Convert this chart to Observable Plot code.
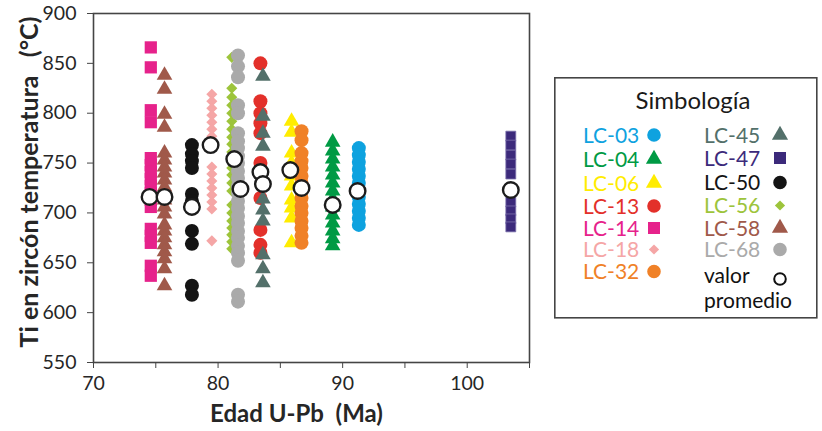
<!DOCTYPE html>
<html><head><meta charset="utf-8">
<script src="https://cdn.jsdelivr.net/npm/d3@7"></script>
<script src="https://cdn.jsdelivr.net/npm/@observablehq/plot@0.6"></script>
<style>
body{margin:0;background:#fff;font-family:Lato,"Open Sans",sans-serif}
#wrap{position:relative;width:822px;height:431px;overflow:hidden}
#legend{position:absolute;left:554px;top:77px}
</style></head><body><div id="wrap"></div>
<script>
// Samples, their U-Pb ages (Ma) and Ti-in-zircon temperatures (°C)
const samples = ["LC-03","LC-04","LC-06","LC-13","LC-14","LC-18","LC-32","LC-45","LC-47","LC-50","LC-56","LC-58","LC-68"];
const ages    = [91.3, 89.2, 85.9, 83.4, 74.6, 79.5, 86.7, 83.6, 103.5, 77.9, 81.1, 75.7, 81.6];
const t03 = [765,758,751,744,737,730,723,716,709,702,695,688];
const t04 = [771,762,754,746,738,730,722,714,706,698,690,682,674,667];
const t06 = [792,781,760,750,737,727,713,705,695,670];
const t13 = [850,812,800,790,780,750,740,715,683,668,660];
const t14 = [866,846,803,791,755,748,741,734,727,720,713,706,684,677,670,647,637];
const t18 = [819,812,805,798,791,784,777,770,746,739,732,725,718,711,704,672];
const t32 = [782,773,760,752,745,737,730,722,715,707,700,692,685,677,670];
const t45 = [837,797,780,767,714,703,692,658,644,630];
const t47 = [777,768,758,749,739,711,702,694,686];
const t50 = [768,759,752,745,719,712,682,669,627,618];
const t56 = [856,825,816,808,800,792,784,776,769,761,753,745,738,730,722,708,700,692,685,678,671,664];
const t58 = [838,824,799,786,760,753,746,740,733,726,720,713,706,699,688,682,675,668,661,654,644,627];
const t68 = [858,847,836,808,800,780,772,765,757,750,742,735,727,720,712,705,697,690,682,675,667,660,652,618,611];
const temps = [t03,t04,t06,t13,t14,t18,t32,t45,t47,t50,t56,t58,t68];
// Average value ("valor promedio") per sample
const avgAges  = [74.5, 75.7, 77.9, 79.4, 81.3, 81.8, 83.4, 83.6, 85.8, 86.7, 89.2, 91.2, 103.5];
const avgTemps = [716, 716, 706, 768, 754, 724, 741, 729, 743, 725, 708, 722, 723];
const xTicks = [70,75,80,85,90,95,100,105];
const yTicks = [550,600,650,700,750,800,850,900];

// styles
const colors  = ["#0ea2df","#009a44","#ffec00","#e3302a","#e6228b","#f5a6a6","#f08127","#53706a","#3c2a7b","#141414","#9dc43b","#a0594a","#aaaaaa"];
const symbols = ["circle","triangle","triangle","circle","square","diamond2","circle","triangle","square","circle","diamond2","triangle","circle"];
const radii   = [7,5.8,5.8,7,6.9,5,7,5.8,5.6,7,5,5.8,7];

const marks = [Plot.frame({stroke:"#454545", strokeWidth:1.6})];
temps.forEach((arr,i)=>{
  marks.push(Plot.dot(arr,{x:()=>ages[i], y:d=>d, symbol:symbols[i], r:radii[i], fill:colors[i],
    stroke: i===8 ? "#7d74ad" : null, strokeWidth: i===8 ? 0.8 : null}));
});
marks.push(Plot.dot(avgTemps,{x:(d,i)=>avgAges[i], y:d=>d, r:7.8, fill:"white", stroke:"#1c1c1c", strokeWidth:2.4}));
marks.push(Plot.axisY({ticks:yTicks, tickSize:6, tickPadding:11, label:null, fontSize:19.5, fill:"#262626", stroke:"#454545"}));
marks.push(Plot.axisX({ticks:xTicks, tickSize:6, tickPadding:8, label:null, fontSize:19.5, fill:"#262626", stroke:"#454545",
  tickFormat:d=> (d%10===0 && d<=100) ? String(d) : ""}));
marks.push(Plot.text(["Ti en zircón temperatura\u00a0\u00a0\u00a0(°C)"],{frameAnchor:"left", dx:-64, dy:-6, rotate:-90, fontWeight:"bold", fontSize:25, fill:"#262626", textAnchor:"middle", lineAnchor:"middle"}));
marks.push(Plot.text(["Edad U-Pb\u00a0\u00a0(Ma)"],{frameAnchor:"bottom", dx:-15, dy:52, fontWeight:"bold", fontSize:24, fill:"#262626", textAnchor:"middle", lineAnchor:"middle"}));

const chart = Plot.plot({
  width:822, height:431,
  marginLeft:93, marginRight:293, marginTop:13, marginBottom:69,
  x:{domain:[70,105]}, y:{domain:[550,900]},
  style:{fontFamily:"Lato, 'Open Sans', sans-serif", background:"white", overflow:"visible"},
  marks
});
document.getElementById("wrap").appendChild(chart);

// Legend ("Simbología")
const L = d3.select("#wrap").append("svg").attr("id","legend").attr("width",264).attr("height",242)
  .style("font-family","Lato, 'Open Sans', sans-serif");
L.append("rect").attr("x",0.8).attr("y",0.8).attr("width",262).attr("height",240).attr("fill","white").attr("stroke","#454545").attr("stroke-width",1.6);
L.append("text").attr("x",139).attr("y",32).attr("text-anchor","middle").attr("font-size",24).attr("fill","#1a1a1a").text("Simbología");
const rowY1 = [58, 82, 106, 129, 151, 172.5, 194.5];
const rowY2 = [58, 81, 105.5, 128.5, 151, 172.5];
const symMap = {circle:d3.symbolCircle, triangle:d3.symbolTriangle, square:d3.symbolSquare, diamond2:d3.symbolDiamond2};
samples.forEach((s,i)=>{
  const col = i<7 ? 0 : 1;
  const y = col===0 ? rowY1[i] : rowY2[i-7];
  const tx = col===0 ? 29 : 150;
  const sx = col===0 ? 100 : 226;
  L.append("text").attr("x",tx).attr("y",y).attr("dy","0.36em").attr("font-size",21).attr("fill",colors[i]).text(s);
  const r = symbols[i]==="diamond2" ? 4.6 : symbols[i]==="triangle" ? 6 : 6.8;
  L.append("path").attr("transform",`translate(${sx},${y})`)
    .attr("d",d3.symbol(symMap[symbols[i]], Math.PI*r*r)()).attr("fill",colors[i]);
});
L.append("text").attr("x",150).attr("y",198).attr("dy","0.36em").attr("font-size",21).attr("fill","#111").text("valor");
L.append("text").attr("x",150).attr("y",223).attr("dy","0.36em").attr("font-size",21).attr("fill","#111").text("promedio");
L.append("circle").attr("cx",226).attr("cy",202).attr("r",5.8).attr("fill","white").attr("stroke","#111").attr("stroke-width",2);
</script>
</body></html>
